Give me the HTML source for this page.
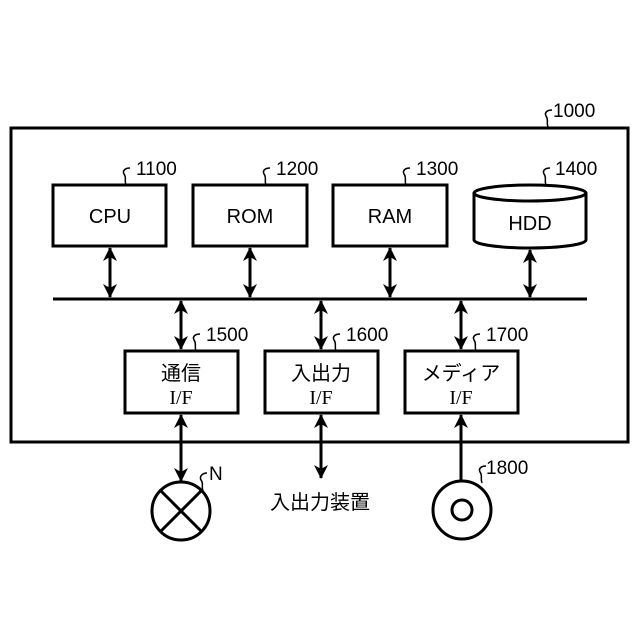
<!DOCTYPE html>
<html><head><meta charset="utf-8"><style>body{margin:0;background:#fff}svg{display:block}</style></head>
<body>
<svg width="640" height="640" viewBox="0 0 640 640" xmlns="http://www.w3.org/2000/svg">
<defs>
<marker id="a" viewBox="0 0 14 14" refX="13" refY="7" markerWidth="14" markerHeight="14" markerUnits="userSpaceOnUse" orient="auto-start-reverse">
<path d="M0,0 L14,7 L0,14 L4,7 Z" fill="#000"/></marker>
</defs>
<g fill="none" stroke="#000" stroke-width="3">
<rect x="11" y="128" width="617" height="314"/>
<rect x="53" y="185" width="113" height="61"/>
<rect x="193" y="185" width="114" height="61"/>
<rect x="333" y="185" width="114" height="61"/>
<path d="M474,193 L474,240 A56,8 0 0 0 586,240 L586,193"/>
<ellipse cx="530" cy="193" rx="56" ry="8"/>
<line x1="53" y1="299" x2="587" y2="299"/>
<rect x="125" y="351" width="113" height="62"/>
<rect x="265" y="351" width="113" height="62"/>
<rect x="405" y="351" width="113" height="62"/>
</g>
<g stroke="#000" stroke-width="3" marker-start="url(#a)" marker-end="url(#a)">
<line x1="110" y1="248" x2="110" y2="297"/>
<line x1="250" y1="248" x2="250" y2="297"/>
<line x1="390" y1="248" x2="390" y2="297"/>
<line x1="530" y1="250" x2="530" y2="297"/>
<line x1="181" y1="301" x2="181" y2="349"/>
<line x1="321" y1="301" x2="321" y2="349"/>
<line x1="461" y1="301" x2="461" y2="349"/>
<line x1="181" y1="415" x2="181" y2="481"/>
<line x1="321" y1="415" x2="321" y2="478"/>
</g>
<line x1="461" y1="415" x2="461" y2="481" stroke="#000" stroke-width="3" marker-start="url(#a)"/>
<g fill="none" stroke="#000" stroke-width="3">
<circle cx="181" cy="511" r="29"/>
<line x1="160.5" y1="490.5" x2="201.5" y2="531.5"/>
<line x1="201.5" y1="490.5" x2="160.5" y2="531.5"/>
<circle cx="462" cy="510" r="29"/>
<circle cx="462" cy="510" r="10"/>
</g>
<g fill="none" stroke="#000" stroke-width="1.5">
<path d="M548,127 C546,122 549,120 546,116 C544,112 548,110 552,110"/>
<path d="M126,185 C124,180 127,178 124,174 C122,170 126,168 130,168"/>
<path d="M266,185 C264,180 267,178 264,174 C262,170 266,168 270,168"/>
<path d="M406,185 C404,180 407,178 404,174 C402,170 406,168 410,168"/>
<path d="M546,185 C544,180 547,178 544,174 C542,170 546,168 550,168"/>
<path d="M196,351 C194,346 197,344 194,340 C192,336 196,334 200,334"/>
<path d="M336,351 C334,346 337,344 334,340 C332,336 336,334 340,334"/>
<path d="M476,351 C474,346 477,344 474,340 C472,336 476,334 480,334"/>
<path d="M203,491 C201,486 204,484 201,480 C199,476 203,473 207,473"/>
<path d="M482,483 C480,478 483,476 480,472 C478,468 482,466 486,466"/>
</g>
<g font-family="Liberation Sans, Noto Sans CJK JP, sans-serif" font-size="19" fill="#000">
<text x="553" y="117">1000</text>
<text x="136" y="175">1100</text>
<text x="276" y="175">1200</text>
<text x="416" y="175">1300</text>
<text x="555" y="175">1400</text>
<text x="206" y="341">1500</text>
<text x="346" y="341">1600</text>
<text x="486" y="341">1700</text>
<text x="486" y="474">1800</text>
<text x="209" y="480">N</text>
</g>
<g font-family="Liberation Sans, Noto Sans CJK JP, sans-serif" font-size="20" fill="#000" text-anchor="middle">
<text x="110" y="223">CPU</text>
<text x="250" y="223">ROM</text>
<text x="390" y="223">RAM</text>
<text x="530" y="230">HDD</text>
<text x="181" y="380">通信</text>
<text x="321" y="380">入出力</text>
<text x="461" y="380">メディア</text>
<text x="320" y="509">入出力装置</text>
</g>
<g font-family="Liberation Serif, serif" font-size="20" fill="#000" text-anchor="middle">
<text x="181" y="404">I/F</text>
<text x="321" y="404">I/F</text>
<text x="461" y="404">I/F</text>
</g>
</svg>
</body></html>
